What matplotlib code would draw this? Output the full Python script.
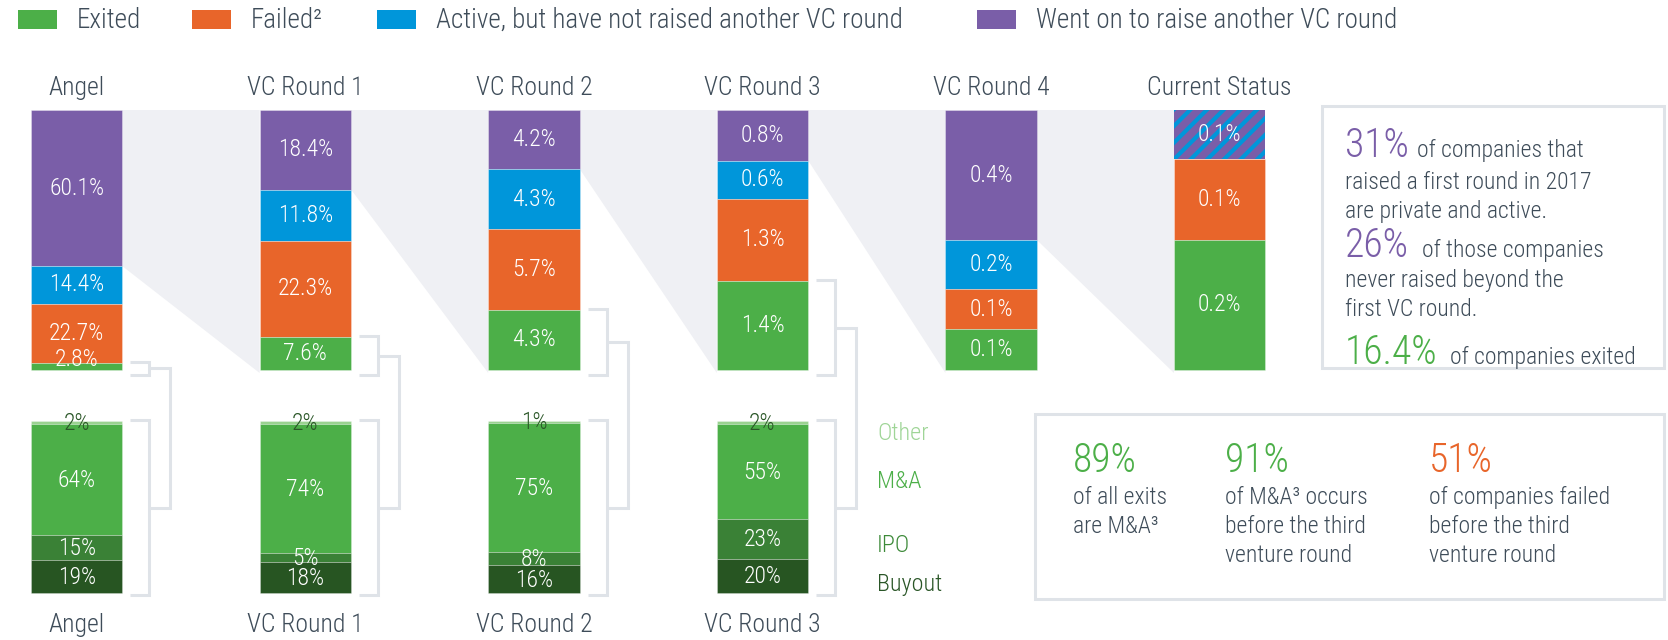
import matplotlib.pyplot as plt
from matplotlib.patches import Rectangle, Polygon
import numpy as np

plt.rcParams['font.family'] = ['Roboto Condensed', 'Liberation Sans Narrow', 'DejaVu Sans']
plt.rcParams['hatch.linewidth'] = 3.0

# top funnel: share of companies at each stage
stages = ["Angel", "VC Round 1", "VC Round 2", "VC Round 3", "VC Round 4", "Current Status"]
raised = [60.1, 18.4, 4.2, 0.8, 0.4, 0.0]
active = [14.4, 11.8, 4.3, 0.6, 0.151, 0.075]   # last one is the hatched mixed segment
failed = [22.7, 22.3, 5.7, 1.3, 0.123, 0.124]
exited = [2.8, 7.6, 4.3, 1.4, 0.126, 0.2]

# exit breakdown for the first four stages
exit_stages = ["Angel", "VC Round 1", "VC Round 2", "VC Round 3"]
other = [2, 2, 1, 2]
ma = [64, 74, 75, 55]
ipo = [15, 5, 8, 23]
buyout = [19, 18, 16, 20]

legend_labels = ["Exited", "Failed²", "Active, but have not raised another VC round",
                 "Went on to raise another VC round"]

GREEN = "#4caf48"
ORANGE = "#e8652a"
BLUE = "#0096da"
PURPLE = "#7a5ea8"
EX_COLS = ["#9ad290", "#4caf48", "#3a8136", "#275522"]
EX_TEXT = ["#9fd597", "#4caf48", "#3d8a39", "#2a5627"]
TXT = "#3e4c59"
FUNNEL = "#eff0f4"
LINE = "#dfe3e8"
WT = "light"

W, H = 1668, 640
fig = plt.figure(figsize=(W / 100, H / 100), dpi=100)
ax = fig.add_axes([0, 0, 1, 1])
ax.set_xlim(0, W)
ax.set_ylim(H, 0)
ax.axis("off")

X0, STEP, BW = 31, 228.6, 91.5
TOP_Y, TOP_H = 110, 260
BOT_Y, BOT_H = 421, 172
lefts = [X0 + i * STEP for i in range(len(stages))]

# legend
leg_x = [18, 192, 377, 977]
for lx, lab, c in zip(leg_x, legend_labels, [GREEN, ORANGE, BLUE, PURPLE]):
    ax.add_patch(Rectangle((lx, 10), 39, 19, color=c, lw=0))
    ax.text(lx + 59, 20, lab, fontsize=19.5, color=TXT, va="center", ha="left", weight=WT)

# funnel + top bars
purple_bottoms = []
green_tops = []
for i, st in enumerate(stages):
    vals = [raised[i], active[i], failed[i], exited[i]]
    cols = [PURPLE, BLUE, ORANGE, GREEN]
    total = sum(vals)
    y = TOP_Y
    tops = []
    for j, (v, c) in enumerate(zip(vals, cols)):
        h = v / total * TOP_H
        tops.append(y)
        if v > 0:
            if i == len(stages) - 1 and j == 1:
                ax.bar(lefts[i], h, bottom=y, width=BW, align="edge", color=PURPLE,
                       edgecolor=BLUE, lw=0, hatch="//", zorder=3)
            else:
                ax.bar(lefts[i], h, bottom=y, width=BW, align="edge", color=c,
                       edgecolor=(1, 1, 1, 0.35), lw=0.6, zorder=3)
            yc = y + h / 2 if h > 20 else y + h - 10
            ax.text(lefts[i] + BW / 2, yc, f"{v:.1f}%", color="white", fontsize=17,
                    ha="center", va="center", weight=WT, zorder=4)
        y += h
    purple_bottoms.append(TOP_Y + raised[i] / total * TOP_H)
    green_tops.append(tops[3])
    ax.text(lefts[i] + BW / 2, 88, st, fontsize=18.5, color=TXT, ha="center", va="center",
            weight=WT)

for i in range(len(stages) - 1):
    r = lefts[i] + BW
    l = lefts[i + 1]
    pb = purple_bottoms[i] if raised[i] > 0 else TOP_Y + TOP_H
    ax.add_patch(Polygon([(r, TOP_Y), (l, TOP_Y), (l, TOP_Y + TOP_H + 3), (r, pb)],
                         closed=True, color=FUNNEL, lw=0, zorder=1))

# exit breakdown bars
for i, st in enumerate(exit_stages):
    vals = [other[i], ma[i], ipo[i], buyout[i]]
    total = sum(vals)
    y = BOT_Y
    for j, (v, c) in enumerate(zip(vals, EX_COLS)):
        h = v / total * BOT_H
        ax.bar(lefts[i], h, bottom=y, width=BW, align="edge", color=c,
               edgecolor=(1, 1, 1, 0.3), lw=0.6, zorder=3)
        ax.text(lefts[i] + BW / 2, y + h / 2 + 1, f"{v}%", fontsize=17,
                color=EX_TEXT[3] if j == 0 else "white", ha="center", va="center",
                weight=WT, zorder=4)
        y += h
    ax.text(lefts[i] + BW / 2, 625, st, fontsize=18.5, color=TXT, ha="center", va="center",
            weight=WT)

    # brackets linking top exit segment to breakdown
    r = lefts[i] + BW
    yt, yb = green_tops[i] - 1, TOP_Y + TOP_H + 5
    ym = (yt + yb) / 2
    bt, bb = BOT_Y - 1, BOT_Y + BOT_H + 2
    bm = (bt + bb) / 2
    kw = dict(color=LINE, lw=2.2, solid_capstyle="butt", solid_joinstyle="miter", zorder=2)
    ax.plot([r + 8, r + 27, r + 27, r + 8], [yt, yt, yb, yb], **kw)
    ax.plot([r + 8, r + 27, r + 27, r + 8], [bt, bt, bb, bb], **kw)
    ax.plot([r + 27, r + 48, r + 48, r + 27], [ym, ym, bm, bm], **kw)

for lab, yy, c in zip(["Other", "M&A", "IPO", "Buyout"], [433, 481, 545, 584], EX_TEXT):
    ax.text(877, yy, lab, fontsize=17.5, color=c, ha="left", va="center", weight=WT)

# info box 1
ax.add_patch(Rectangle((1322, 106), 342, 262, fill=False, edgecolor=LINE, lw=2.2, zorder=2))
big = dict(fontsize=28.5, ha="left", va="baseline", weight=WT)
body = dict(fontsize=17, ha="left", va="baseline", color=TXT, weight=WT)
ax.text(1345, 157, "31%", color=PURPLE, **big)
ax.text(1417, 157, "of companies that", **body)
ax.text(1345, 189, "raised a first round in 2017", **body)
ax.text(1345, 218, "are private and active.", **body)
ax.text(1345, 257, "26%", color=PURPLE, **big)
ax.text(1422, 257, "of those companies", **body)
ax.text(1345, 287, "never raised beyond the", **body)
ax.text(1345, 316, "first VC round.", **body)
ax.text(1345, 364, "16.4%", color=GREEN, **big)
ax.text(1450, 364, "of companies exited", **body)

# info box 2
ax.add_patch(Rectangle((1035, 414), 629, 185, fill=False, edgecolor=LINE, lw=2.2, zorder=2))
cols_txt = [
    (1073, "89%", GREEN, ["of all exits", "are M&A³"]),
    (1225, "91%", GREEN, ["of M&A³ occurs", "before the third", "venture round"]),
    (1429, "51%", ORANGE, ["of companies failed", "before the third", "venture round"]),
]
for x, num, c, lines in cols_txt:
    ax.text(x, 472, num, color=c, **big)
    for k, ln in enumerate(lines):
        ax.text(x, 504 + k * 29, ln, **body)

fig.savefig("out.png", dpi=100)
